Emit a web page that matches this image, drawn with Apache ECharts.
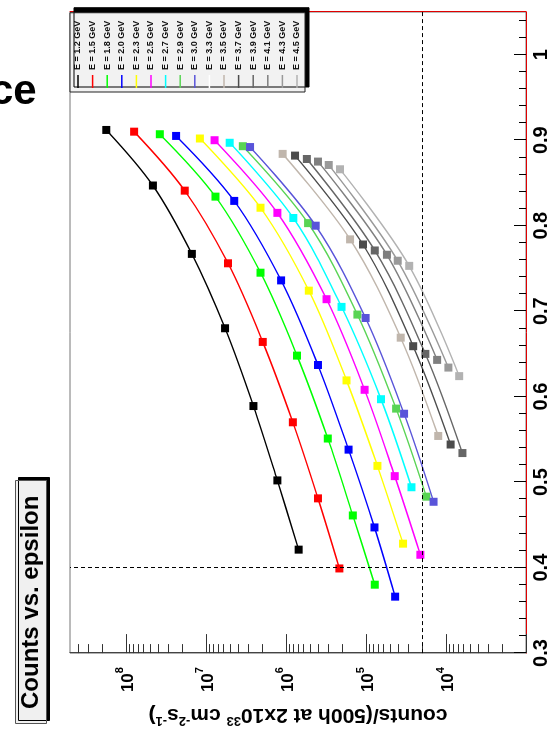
<!DOCTYPE html>
<html><head><meta charset="utf-8">
<script src="https://cdn.jsdelivr.net/npm/echarts@6/dist/echarts.min.js"></script>
<style>
html,body{margin:0;padding:0;width:551px;height:735px;overflow:hidden;background:#fff;}
#chart{position:absolute;left:0;top:0;width:735px;height:551px;transform-origin:0 0;transform:translate(0px,735px) rotate(-90deg);z-index:1;}
#ce{position:absolute;left:-10px;top:69px;z-index:5;font-family:'Liberation Sans',Arial,sans-serif;font-weight:bold;font-size:42px;line-height:42px;color:#000;white-space:nowrap;}
</style></head><body>
<div id="chart"></div>
<div id="ce">ce</div>
<script>
// ---- data ----
const energies = ['1.2','1.5','1.8','2.0','2.3','2.5','2.7','2.9','3.0','3.3','3.5','3.7','3.9','4.1','4.3','4.5'];
const lineColors = ['#000000','#ff0000','#00ff00','#0000ff','#ffff00','#ff00ff','#00ffff','#59d454','#5954d9','#ffffff','#c0b6ac','#4c4c4c','#666666','#7f7f7f','#999999','#b2b2b2'];
const eps12 = [0.912,0.847,0.767,0.680,0.589,0.502,0.421];
const cnt12 = [1.76e8,4.6e7,1.5e7,5.77e6,2.55e6,1.28e6,6.94e5];
const eps15 = [0.910,0.841,0.756,0.664,0.570,0.481,0.399];
const cnt15 = [7.9e7,1.84e7,5.3e6,1.95e6,8.2e5,3.98e5,2.15e5];
const eps18 = [0.907,0.834,0.745,0.648,0.551,0.461,0.380];
const cnt18 = [3.77e7,7.6e6,2.08e6,7.28e5,3.0e5,1.46e5,7.76e4];
const eps20 = [0.905,0.829,0.736,0.637,0.538,0.447,0.366];
const cnt20 = [2.36e7,4.43e6,1.15e6,3.98e5,1.65e5,7.83e4,4.32e4];
const eps23 = [0.902,0.821,0.724,0.619,0.519,0.428];
const cnt23 = [1.19e7,2.08e6,5.18e5,1.75e5,7.19e4,3.44e4];
const eps25 = [0.900,0.815,0.714,0.608,0.507,0.415];
const cnt25 = [7.8e6,1.28e6,3.11e5,1.04e5,4.37e4,2.09e4];
const eps27 = [0.897,0.809,0.705,0.597,0.494];
const cnt27 = [5.05e6,8.09e5,2.02e5,6.49e4,2.7e4];
const eps29 = [0.893,0.803,0.696,0.586,0.483];
const cnt29 = [3.46e6,5.29e5,1.28e5,4.2e4,1.76e4];
const eps30 = [0.892,0.800,0.692,0.580,0.477];
const cnt30 = [2.81e6,4.25e5,1.01e5,3.34e4,1.43e4];
const eps33 = [];
const cnt33 = [];
const eps35 = [0.884,0.784,0.669,0.554];
const cnt35 = [1.1e6,1.58e5,3.68e4,1.25e4];
const eps37 = [0.882,0.778,0.659,0.544];
const cnt37 = [7.7e5,1.09e5,2.57e4,8.75e3];
const eps39 = [0.878,0.771,0.650,0.534];
const cnt39 = [5.48e5,7.76e4,1.81e4,6.23e3];
const eps41 = [0.875,0.766,0.643];
const cnt41 = [3.98e5,5.47e4,1.29e4];
const eps43 = [0.871,0.759,0.634];
const cnt43 = [2.92e5,4.01e4,9.33e3];
const eps45 = [0.866,0.753,0.624];
const cnt45 = [2.11e5,2.88e4,6.84e3];
const epsilonSets = [eps12,eps15,eps18,eps20,eps23,eps25,eps27,eps29,eps30,eps33,eps35,eps37,eps39,eps41,eps43,eps45];
const countSets = [cnt12,cnt15,cnt18,cnt20,cnt23,cnt25,cnt27,cnt29,cnt30,cnt33,cnt35,cnt37,cnt39,cnt41,cnt43,cnt45];
const epsTickLabels = [0.3,0.4,0.5,0.6,0.7,0.8,0.9,1.0];
const countTickLabels = [1e4,1e5,1e6,1e7,1e8];
const countMajorTicks = [1e3,1e4,1e5,1e6,1e7,1e8];
const epsCut = 0.4;      // dashed line
const countCut = 2e4;    // dashed line

// ---- tick helpers ----
const countMinorTicks = [];
countMajorTicks.forEach(d => { for (let k = 2; k <= 9; k++) { const v = d * k; if (v < 5e8) countMinorTicks.push(v); } });
const epsMinorTicks = [];
for (let i = 0; i <= 37; i++) { const v = Math.round((0.3 + i * 0.02) * 100) / 100; if (v <= 1.05 && Math.round(v * 100) % 10 !== 0) epsMinorTicks.push(v); }

const FONT = "'Liberation Sans', Arial, sans-serif";
const chart = echarts.init(document.getElementById('chart'));

const series = energies.map((e, i) => ({
  name: 'E = ' + e + ' GeV',
  type: 'line',
  xAxisIndex: 0, yAxisIndex: 0,
  smooth: 0.35,
  symbol: 'rect', symbolSize: 8,
  data: epsilonSets[i].map((x, j) => [x, countSets[i][j]]),
  itemStyle: { color: lineColors[i] },
  lineStyle: { color: lineColors[i], width: 1.4 },
  z: 3 + i * 0.01,
  animation: false
}));
series[0].markLine = {
  silent: true, symbol: ['none', 'none'], animation: false,
  label: { show: false },
  lineStyle: { type: [4, 3], color: '#000', width: 1 },
  data: [{ xAxis: epsCut }, { yAxis: countCut }]
};

const axisBase = { min: 0.3, max: 1.05 };
const option = {
  animation: false,
  backgroundColor: '#fff',
  textStyle: { fontFamily: FONT },
  title: {
    text: 'Counts vs. epsilon', left: 11, top: 15, padding: [4, 15, 4, 15],
    textStyle: { fontSize: 24, fontWeight: 'bold', fontFamily: FONT, color: '#000', lineHeight: 24 },
    backgroundColor: '#f0f0f0', borderColor: '#555', borderWidth: 1,
    shadowColor: '#000', shadowOffsetX: 3, shadowOffsetY: 3, shadowBlur: 0
  },
  legend: {
    orient: 'vertical', left: 643, top: 70, padding: [3, 8, 3, 4],
    itemGap: 4.6, itemWidth: 13, itemHeight: 1.5, icon: 'rect', selectedMode: false,
    textStyle: { fontSize: 9, fontWeight: 'bold', color: '#111', fontFamily: FONT, lineHeight: 10 },
    backgroundColor: '#f2f2f2', borderColor: '#222', borderWidth: 1,
    shadowColor: '#000', shadowOffsetX: 5, shadowOffsetY: 4, shadowBlur: 0,
    data: energies.map(e => 'E = ' + e + ' GeV')
  },
  grid: { left: 74, top: 70, width: 649, height: 464, show: true, borderColor: '#777', borderWidth: 1, backgroundColor: 'transparent' },
  xAxis: [
    Object.assign({}, axisBase, {
      type: 'value', position: 'bottom', interval: 0.1,
      axisLine: { show: true, onZero: false, lineStyle: { color: '#e00000', width: 1 } },
      axisTick: { show: true, inside: true, length: 12, customValues: epsTickLabels, lineStyle: { color: '#000' } },
      axisLabel: { show: true, margin: 5, customValues: epsTickLabels, fontSize: 20, fontWeight: 'bold', color: '#000', fontFamily: FONT,
        formatter: v => String(Math.round(v * 10) / 10) },
      splitLine: { show: false }
    }),
    Object.assign({}, axisBase, {
      type: 'value', position: 'bottom', interval: 0.1,
      axisLine: { show: false, onZero: false },
      axisTick: { show: true, inside: true, length: 7, customValues: epsMinorTicks, lineStyle: { color: '#000' } },
      axisLabel: { show: false },
      splitLine: { show: false }
    })
  ],
  yAxis: [
    {
      type: 'log', logBase: 10, min: 1e3, max: 5e8, position: 'left',
      axisLine: { show: true, onZero: false, lineStyle: { color: '#444', width: 1 } },
      axisTick: { show: true, inside: true, length: 19, customValues: countMajorTicks, lineStyle: { color: '#333' } },
      axisLabel: { show: true, margin: 14, customValues: countTickLabels, color: '#000',
        formatter: v => '{b|10}{s|' + Math.round(Math.log10(v)) + '}',
        rich: {
          b: { fontSize: 17, fontWeight: 'bold', color: '#000', fontFamily: FONT, lineHeight: 22, verticalAlign: 'bottom' },
          s: { fontSize: 11, fontWeight: 'bold', color: '#000', fontFamily: FONT, lineHeight: 22, verticalAlign: 'top' }
        } },
      splitLine: { show: false },
      name: 'counts/(500h at 2x10{s|33} cm{s|-2}s{s|-1})',
      nameLocation: 'middle', nameGap: 38,
      nameTextStyle: { fontSize: 21, fontWeight: 'bold', color: '#000', fontFamily: FONT, lineHeight: 24,
        rich: { s: { fontSize: 13, fontWeight: 'bold', color: '#000', fontFamily: FONT, verticalAlign: 'top', lineHeight: 24 } } }
    },
    {
      type: 'log', logBase: 10, min: 1e3, max: 5e8, position: 'left',
      axisLine: { show: false, onZero: false },
      axisTick: { show: true, inside: true, length: 9, customValues: countMinorTicks, lineStyle: { color: '#333' } },
      axisLabel: { show: false },
      splitLine: { show: false }
    },
    {
      type: 'log', logBase: 10, min: 1e3, max: 5e8, position: 'right',
      axisLine: { show: true, onZero: false, lineStyle: { color: '#e00000', width: 1 } },
      axisTick: { show: false }, axisLabel: { show: false }, splitLine: { show: false }
    }
  ],
  series: series
};
chart.setOption(option);
</script></body></html>
